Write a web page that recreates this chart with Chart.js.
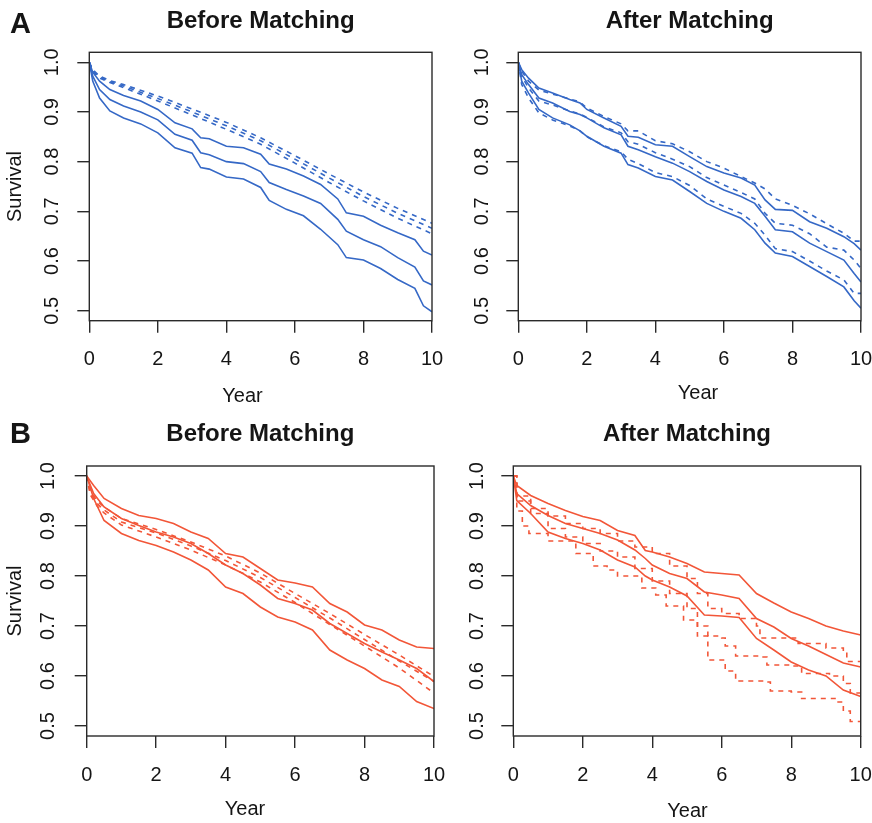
<!DOCTYPE html>
<html><head><meta charset="utf-8">
<script src="https://cdn.jsdelivr.net/npm/chart.js@4.4.1/dist/chart.umd.min.js"></script>
<style>
html,body{margin:0;padding:0;background:#fff;}
#wrap{position:relative;width:872px;height:823px;overflow:hidden;background:#fff;}
canvas{position:absolute;}
</style></head><body><div id="wrap">
<canvas id="pA1" width="452" height="411" style="left:0px;top:0px;width:452px;height:411px"></canvas>
<canvas id="pA2" width="436" height="411" style="left:436px;top:0px;width:436px;height:411px"></canvas>
<canvas id="pB1" width="452" height="412" style="left:0px;top:411px;width:452px;height:412px"></canvas>
<canvas id="pB2" width="436" height="412" style="left:436px;top:411px;width:436px;height:412px"></canvas>
</div>
<script>
// ---------- data ----------
const xTicks = [0, 2, 4, 6, 8, 10];
const yTicks = [0.5, 0.6, 0.7, 0.8, 0.9, 1.0];
const xTitle = 'Year';
const yTitle = 'Survival';
const titleBefore = 'Before Matching';
const titleAfter = 'After Matching';

// Panel A, before matching
const aBeforeTime      = [0, 0.1, 0.3, 0.6, 1, 1.5, 2, 2.5, 3, 3.25, 3.5, 4, 4.5, 5, 5.25, 5.75, 6.25, 6.75, 7.25, 7.5, 8, 8.5, 9, 9.5, 9.75, 10];
const aBeforeUpper     = [1, .98, .962, .945, .933, .922, .905, .878, .866, .848, .846, .831, .828, .815, .795, .785, .771, .754, .725, .697, .690, .672, .657, .643, .62, .612];
const aBeforeMid       = [1, .972, .945, .925, .912, .900, .884, .855, .843, .818, .814, .800, .796, .78, .758, .744, .731, .716, .684, .66, .643, .629, .607, .588, .56, .552];
const aBeforeLower     = [1, .962, .928, .902, .888, .876, .858, .828, .817, .788, .785, .769, .765, .748, .722, .704, .691, .664, .633, .607, .602, .585, .563, .545, .51, .498];
const aBeforeDashTime  = [0, 0.1, 0.3, 0.6, 1, 2, 3, 4, 5, 6, 7, 8, 9, 10];
const aBeforeDash1     = [1, .985, .972, .963, .955, .932, .906, .879, .848, .812, .775, .739, .706, .676];
const aBeforeDash2     = [1, .983, .970, .961, .952, .927, .900, .872, .842, .805, .767, .730, .696, .666];
const aBeforeDash3     = [1, .981, .968, .959, .949, .922, .894, .865, .835, .797, .758, .721, .686, .655];

// Panel A, after matching
const aAfterTime       = [0, 0.1, 0.3, 0.6, 1, 1.5, 1.8, 2, 2.5, 3, 3.2, 3.5, 4, 4.5, 5, 5.5, 6, 6.5, 6.9, 7.2, 7.5, 8, 8.5, 9, 9.5, 9.8, 10];
const aAfterUpper      = [1, .985, .968, .948, .938, .925, .918, .905, .888, .871, .851, .849, .834, .831, .81, .79, .777, .767, .753, .723, .704, .702, .679, .666, .649, .635, .622];
const aAfterMid        = [1, .975, .955, .928, .918, .901, .895, .888, .868, .854, .831, .824, .81, .797, .78, .76, .743, .73, .716, .69, .663, .659, .636, .619, .602, .575, .558];
const aAfterLower      = [1, .962, .938, .905, .888, .874, .862, .851, .831, .817, .794, .787, .770, .763, .74, .716, .70, .686, .663, .636, .616, .609, .589, .569, .548, .52, .505];
const aAfterDash1      = [1, .982, .962, .944, .936, .926, .92, .908, .891, .876, .862, .862, .842, .836, .82, .80, .787, .77, .757, .745, .725, .712, .695, .675, .656, .64, .64];
const aAfterDash2      = [1, .972, .948, .922, .914, .902, .896, .889, .87, .858, .84, .835, .818, .805, .79, .768, .753, .738, .725, .696, .676, .672, .655, .628, .622, .602, .585];
const aAfterDash3      = [1, .955, .928, .898, .884, .872, .862, .85, .832, .82, .805, .796, .778, .77, .752, .725, .71, .696, .676, .652, .625, .619, .60, .58, .562, .535, .535];

// Panel B, before matching
const bBeforeTime      = [0, 0.2, 0.5, 1, 1.5, 2, 2.5, 3, 3.5, 4, 4.5, 5, 5.5, 6, 6.5, 7, 7.5, 8, 8.5, 9, 9.5, 10];
const bBeforeUpper     = [1, .981, .955, .935, .921, .915, .905, .888, .875, .845, .838, .815, .792, .786, .778, .745, .728, .702, .692, .672, .658, .655];
const bBeforeMid       = [1, .965, .938, .915, .901, .888, .878, .865, .845, .822, .805, .782, .755, .745, .732, .705, .685, .665, .648, .632, .615, .589];
const bBeforeLower     = [1, .955, .911, .885, .871, .861, .848, .832, .812, .778, .765, .738, .718, .708, .692, .652, .632, .615, .592, .579, .549, .535];
const bBeforeDashTime  = [0, 0.1, 0.3, 0.5, 1, 2, 3, 4, 5, 6, 7, 8, 9, 10];
const bBeforeDash1     = [1, .972, .950, .938, .915, .893, .868, .840, .806, .765, .725, .683, .642, .599];
const bBeforeDash2     = [1, .968, .945, .932, .908, .886, .860, .831, .797, .757, .716, .673, .630, .589];
const bBeforeDash3     = [1, .963, .940, .926, .902, .878, .852, .822, .788, .747, .703, .660, .616, .566];

// Panel B, after matching
const bAfterTime       = [0, 0.1, 0.5, 1, 1.5, 2, 2.5, 3, 3.5, 3.8, 4, 4.5, 5, 5.5, 6, 6.5, 7, 7.5, 8, 8.5, 9, 9.5, 10];
const bAfterUpper      = [1, .981, .961, .945, .931, .919, .911, .891, .881, .851, .848, .838, .825, .808, .805, .802, .765, .746, .728, .715, .70, .69, .682];
const bAfterMid        = [1, .965, .941, .921, .905, .895, .885, .872, .852, .835, .822, .805, .795, .768, .762, .755, .715, .698, .675, .66, .643, .626, .618];
const bAfterLower      = [1, .951, .925, .888, .875, .865, .852, .832, .818, .80, .792, .778, .76, .722, .72, .717, .675, .652, .628, .612, .60, .572, .559];
const bAfterDash1Time  = [0, 0.1, 0.5, 1, 1.5, 2, 2.5, 3, 3.5, 4, 4.5, 5, 5.3, 5.6, 6, 6.5, 7, 7.1, 8, 8.2, 9, 9.5, 9.6, 10];
const bAfterDash1      = [1, .96, .935, .92, .905, .895, .885, .87, .858, .845, .82, .795, .765, .735, .725, .715, .700, .676, .676, .665, .656, .648, .629, .629];
const bAfterDash2Time  = [0, 0.1, 0.5, 1, 1.5, 2, 2.5, 3, 3.5, 4, 4.5, 5, 5.3, 5.6, 6, 6.1, 6.4, 7.1, 7.3, 8, 8.3, 9.1, 9.5, 9.7, 10];
const bAfterDash2      = [1, .95, .925, .895, .878, .865, .85, .838, .815, .79, .765, .735, .70, .68, .676, .66, .64, .638, .622, .62, .605, .60, .585, .566, .566];
const bAfterDash3Time  = [0, 0.1, 0.26, 0.45, 1, 1.8, 2.3, 2.7, 3, 3.7, 4.1, 4.4, 4.9, 5.3, 5.6, 5.95, 6.1, 6.4, 7.2, 7.4, 8, 8.3, 9.3, 9.5, 9.7, 10];
const bAfterDash3      = [1, .93, .90, .885, .87, .845, .82, .812, .80, .776, .762, .74, .712, .68, .632, .632, .61, .59, .588, .57, .568, .555, .548, .53, .509, .509];

// ---------- styling ----------
const FAMILY = '"Liberation Sans", Arial, Helvetica, sans-serif';
const TXT = '#151515';
const AXIS = '#2a2a2a';
const BLUE = '#3568c6';
const RED = '#f25638';
const TICK_SIZE = 20;
const LAB_SIZE = 20;
Chart.defaults.font.family = FAMILY;
Chart.defaults.color = TXT;

const mctx = document.createElement('canvas').getContext('2d');
mctx.font = TICK_SIZE + 'px ' + FAMILY;
const widestY = Math.max(...yTicks.map(v => mctx.measureText(v.toFixed(1)).width));

function pts(t, v) { return t.map((x, i) => ({ x: x, y: v[i] })); }
function solid(t, v, c) { return { data: pts(t, v), borderColor: c, borderWidth: 1.6, pointRadius: 0, tension: 0, fill: false }; }
function dashed(t, v, c, stepped) { return { data: pts(t, v), borderColor: c, borderWidth: 1.6, borderDash: [5, 5], pointRadius: 0, tension: 0, fill: false, stepped: stepped ? 'before' : false }; }

const panelPlugin = {
  id: 'panelDecor',
  afterDraw(chart, args, o) {
    const { ctx, chartArea: a } = chart;
    ctx.save();
    ctx.strokeStyle = AXIS; ctx.lineWidth = 1.4;
    ctx.strokeRect(a.left, a.top, a.right - a.left, a.bottom - a.top);
    ctx.fillStyle = TXT;
    ctx.textBaseline = 'alphabetic';
    ctx.font = 'bold 24px ' + FAMILY;
    ctx.textAlign = 'center';
    ctx.fillText(o.title, (a.left + a.right) / 2, o.titleY);
    if (o.letter) {
      ctx.font = 'bold 29px ' + FAMILY;
      ctx.textAlign = 'left';
      ctx.fillText(o.letter, o.letterX, o.letterY);
    }
    ctx.font = LAB_SIZE + 'px ' + FAMILY;
    ctx.textAlign = 'center';
    ctx.fillText(xTitle, o.yearX, o.yearY + 0.358 * LAB_SIZE);
    ctx.restore();
  }
};

function makePanel(id, p) {
  new Chart(document.getElementById(id), {
    type: 'line',
    data: { datasets: p.datasets },
    options: {
      responsive: false, animation: false, events: [],
      layout: { padding: { left: 0, top: p.top, right: p.right, bottom: 0 } },
      plugins: { legend: { display: false }, tooltip: { enabled: false }, title: { display: false },
        panelDecor: { title: p.title, titleY: p.titleY, letter: p.letter, letterX: 10, letterY: p.letterY, yearX: p.yearX, yearY: p.yearY } },
      scales: {
        x: {
          type: 'linear', position: 'bottom', min: 0, max: 10,
          afterBuildTicks: s => { s.ticks = xTicks.map(v => ({ value: v })); },
          afterFit: s => { s.height = p.hx; s.paddingLeft = 0; s.paddingRight = 0; },
          grid: { drawOnChartArea: false, drawTicks: true, tickLength: 12, color: AXIS, lineWidth: 1.4 },
          border: { display: false },
          ticks: { font: { size: TICK_SIZE }, color: TXT, padding: p.xPad, maxRotation: 0, minRotation: 0, autoSkip: false, callback: v => String(v) },
          title: { display: false }
        },
        y: {
          type: 'linear', position: 'left', min: 0.48, max: 1.02,
          afterBuildTicks: s => { s.ticks = yTicks.map(v => ({ value: v })); },
          afterFit: s => { s.width = p.wy; s.paddingTop = 0; s.paddingBottom = 0; },
          grid: { drawOnChartArea: false, drawTicks: true, tickLength: 12, color: AXIS, lineWidth: 1.4 },
          border: { display: false },
          ticks: { font: { size: TICK_SIZE }, color: TXT, minRotation: 90, maxRotation: 90, crossAlign: 'center', autoSkip: false,
                   padding: p.yLabCenter - 12 - widestY / 2, callback: v => Number(v).toFixed(1) },
          title: { display: p.showY, text: yTitle, font: { size: LAB_SIZE }, color: TXT, padding: { top: 3.5, bottom: 0 } }
        }
      }
    },
    plugins: [panelPlugin]
  });
}

// A - before
makePanel('pA1', {
  top: 52.3, right: 20, wy: 89.3, hx: 90.3, xPad: 14.8, yLabCenter: 36.8, showY: true,
  title: titleBefore, titleY: 27.5, letter: 'A', letterY: 33.3, yearX: 242.5, yearY: 395,
  datasets: [
    dashed(aBeforeDashTime, aBeforeDash1, BLUE), dashed(aBeforeDashTime, aBeforeDash2, BLUE), dashed(aBeforeDashTime, aBeforeDash3, BLUE),
    solid(aBeforeTime, aBeforeUpper, BLUE), solid(aBeforeTime, aBeforeMid, BLUE), solid(aBeforeTime, aBeforeLower, BLUE)
  ]
});
// A - after
makePanel('pA2', {
  top: 52.3, right: 11, wy: 82.3, hx: 90.3, xPad: 14.8, yLabCenter: 35.8, showY: false,
  title: titleAfter, titleY: 27.5, letter: null, letterY: 0, yearX: 698 - 436, yearY: 392,
  datasets: [
    dashed(aAfterTime, aAfterDash1, BLUE), dashed(aAfterTime, aAfterDash2, BLUE), dashed(aAfterTime, aAfterDash3, BLUE),
    solid(aAfterTime, aAfterUpper, BLUE), solid(aAfterTime, aAfterMid, BLUE), solid(aAfterTime, aAfterLower, BLUE)
  ]
});
// B - before
makePanel('pB1', {
  top: 55, right: 18, wy: 86.7, hx: 87, xPad: 15, yLabCenter: 38.2, showY: true,
  title: titleBefore, titleY: 29.5, letter: 'B', letterY: 32.3, yearX: 245, yearY: 807.5 - 411,
  datasets: [
    dashed(bBeforeDashTime, bBeforeDash1, RED), dashed(bBeforeDashTime, bBeforeDash2, RED), dashed(bBeforeDashTime, bBeforeDash3, RED),
    solid(bBeforeTime, bBeforeUpper, RED), solid(bBeforeTime, bBeforeMid, RED), solid(bBeforeTime, bBeforeLower, RED)
  ]
});
// B - after
makePanel('pB2', {
  top: 55, right: 11.3, wy: 77.3, hx: 87, xPad: 15, yLabCenter: 35.8, showY: false,
  title: titleAfter, titleY: 29.5, letter: null, letterY: 0, yearX: 687.5 - 436, yearY: 810 - 411,
  datasets: [
    dashed(bAfterDash1Time, bAfterDash1, RED, true), dashed(bAfterDash2Time, bAfterDash2, RED, true), dashed(bAfterDash3Time, bAfterDash3, RED, true),
    solid(bAfterTime, bAfterUpper, RED), solid(bAfterTime, bAfterMid, RED), solid(bAfterTime, bAfterLower, RED)
  ]
});
</script>
</body></html>
